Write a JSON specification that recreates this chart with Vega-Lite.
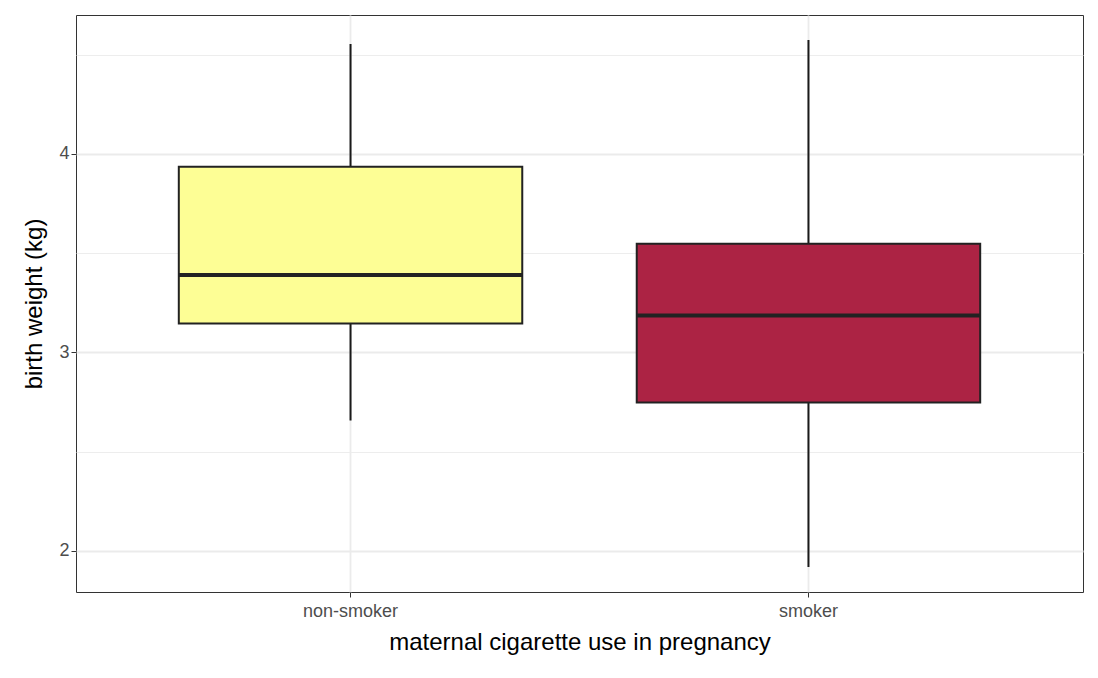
{
  "$schema": "https://vega.github.io/schema/vega-lite/v6.json",
  "width": 1007,
  "height": 577,
  "autosize": "none",
  "padding": {"left": 76, "top": 15, "right": 15, "bottom": 86},
  "background": "white",
  "config": {
    "view": {"stroke": "#333333", "strokeWidth": 1},
    "axis": {
      "labelFont": "Liberation Sans", "titleFont": "Liberation Sans",
      "labelFontSize": 18, "titleFontSize": 24, "titleFontWeight": "normal",
      "labelColor": "#4d4d4d", "titleColor": "black",
      "tickColor": "#333333", "tickSize": 5, "domain": false
    }
  },
  "data": {
    "values": [
      {"smoke": "non-smoker", "lower": 2.657, "q1": 3.146, "median": 3.39, "q3": 3.935, "upper": 4.554},
      {"smoke": "smoker", "lower": 1.919, "q1": 2.748, "median": 3.186, "q3": 3.547, "upper": 4.574}
    ]
  },
  "encoding": {
    "x": {
      "field": "smoke", "type": "nominal",
      "scale": {"paddingInner": 0.25, "paddingOuter": 0.2245},
      "axis": {"title": "maternal cigarette use in pregnancy", "labelAngle": 0, "bandPosition": 0.5,
        "grid": true, "gridColor": "#ebebeb", "gridWidth": 1.8, "labelPadding": 5, "titlePadding": 10}
    }
  },
  "layer": [
    {
      "mark": {"type": "rule", "color": "#1a1a1a", "strokeWidth": 2},
      "encoding": {
        "y": {"field": "lower", "type": "quantitative",
          "scale": {"domain": [1.793, 4.70], "nice": false, "zero": false},
          "axis": {"title": "birth weight (kg)", "values": [2, 2.5, 3, 3.5, 4, 4.5],
            "labelExpr": "datum.value % 1 == 0 ? format(datum.value, 'd') : ''",
            "tickOpacity": {"expr": "datum.value % 1 == 0 ? 1 : 0"},
            "gridColor": "#ebebeb",
            "gridWidth": {"expr": "datum.value % 1 == 0 ? 1.8 : 0.9"},
            "titlePadding": 12}},
        "y2": {"field": "upper"}
      }
    },
    {
      "mark": {"type": "bar", "stroke": "#222222", "strokeWidth": 2},
      "encoding": {
        "y": {"field": "q1", "type": "quantitative"},
        "y2": {"field": "q3"},
        "fill": {"field": "smoke", "type": "nominal", "legend": null,
          "scale": {"range": ["#FDFE95", "#AC2344"]}}
      }
    },
    {
      "mark": {"type": "tick", "color": "#222222", "thickness": 4, "size": 343, "opacity": 1},
      "encoding": {
        "y": {"field": "median", "type": "quantitative"}
      }
    }
  ]
}
